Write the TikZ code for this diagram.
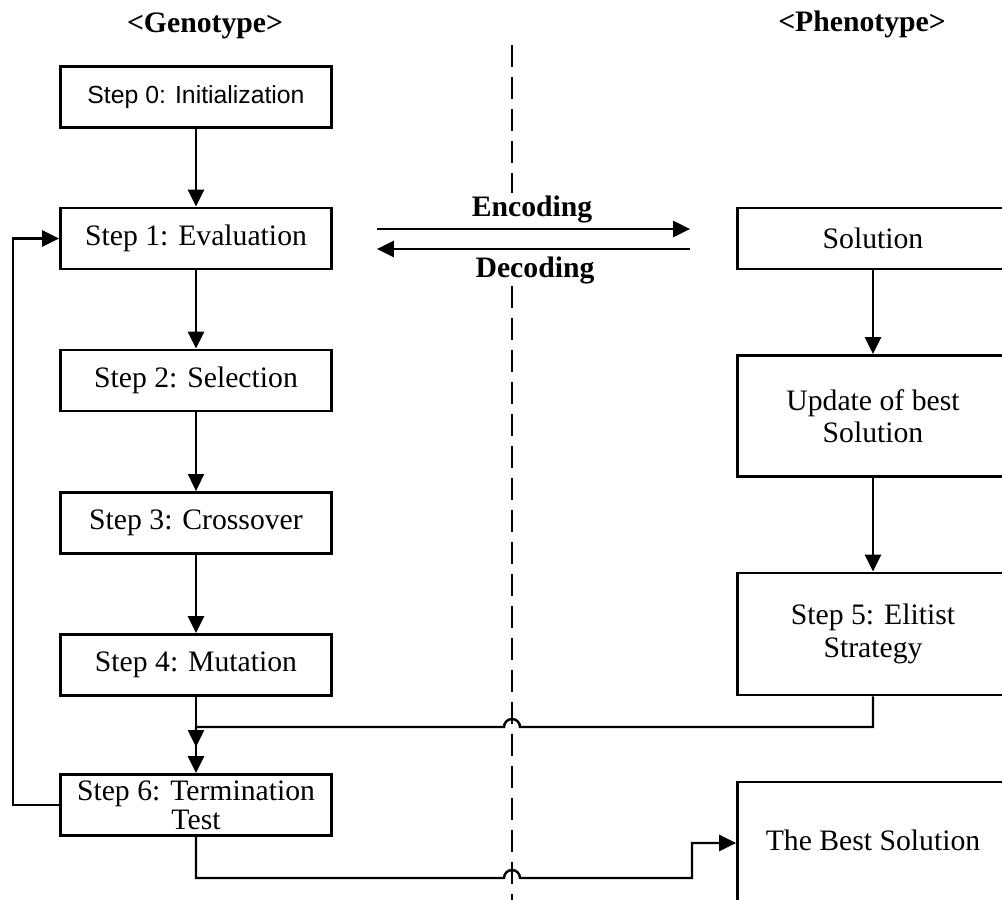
\documentclass[tikz,border=0pt]{standalone}
\usepackage{fontspec}
\setmainfont{Liberation Serif}
\newfontfamily\arialfont{Liberation Sans}
\usetikzlibrary{arrows.meta}

\begin{document}
\begin{tikzpicture}[x=0.02cm, y=-0.02cm,
	stepbox/.style={draw, line width=1.6pt, rectangle, minimum width=5.42cm, minimum height=1.22cm, align=center, inner sep=0pt, font=\fontsize{16.9}{18.5}\selectfont},
	wire/.style={line width=1.4pt},
	flow/.style={line width=1.4pt, -{Triangle[length=0.34cm, width=0.32cm]}},
	divider/.style={line width=1.6pt, dash pattern=on 0.44cm off 0.2cm},
	heading/.style={font=\bfseries\fontsize{16.9}{18}\selectfont, anchor=base, inner sep=1pt}]
	
	\clip (0,0) rectangle (1002,900);
	
	\node [heading] (geno) at (205,32){<Genotype>};
	\node [heading] (pheno) at (862,31){<Phenotype>};
	
	\node [stepbox, font=\arialfont\fontsize{14.1}{16}\selectfont] (s0) at (196,97){Step 0: Initialization};
	\node [stepbox] (s1) at (196,238.5){Step 1: Evaluation};
	\node [stepbox] (s2) at (196,380.5){Step 2: Selection};
	\node [stepbox] (s3) at (196,523){Step 3: Crossover};
	\node [stepbox] (s4) at (196,665){Step 4: Mutation};
	\node [stepbox, font=\fontsize{16.9}{16.4}\selectfont] (s6) at (196,805){Step 6: Termination\\Test};
	
	\node [stepbox] (sol) at (873,238.5){Solution};
	\node [stepbox, minimum height=2.42cm] (upd) at (873,416){Update of best\\Solution};
	\node [stepbox, minimum height=2.44cm] (s5) at (873,634){Step 5: Elitist\\Strategy};
	\node [stepbox, minimum height=2.6cm, text depth=8pt] (best) at (873,847){The Best Solution};
	
	\node [heading] (enc) at (532,216){Encoding};
	\node [heading] (dec) at (535,277){Decoding};
	
	\coordinate (dtop) at (512,45);
	\coordinate (dbot) at (512,905);
	\coordinate (hopA) at (520,727);
	\coordinate (merge) at (196,727);
	\coordinate (mergetip) at (196,747);
	\coordinate (hopB) at (504,878);
	\coordinate (bend) at (692,843);
	
	\draw[divider] (dtop) -- (dtop |- enc.north);
	\draw[divider] (dtop |- dec.south) -- (dbot);
	
	\draw[flow] ([shift={(44,-9.5)}]s1.east) -- ([shift={(-46,-9.5)}]sol.west);
	\draw[flow] ([shift={(-46,10.5)}]sol.west) -- ([shift={(44,10.5)}]s1.east);
	
	\draw[flow] (s0) -- (s1);
	\draw[flow] (s1) -- (s2);
	\draw[flow, line width=0.9pt] (s2) -- (s3);
	\draw[flow] (s3) -- (s4);
	\draw[flow] (s4) -- (s6);
	\draw[flow] (sol) -- (upd);
	\draw[flow] (upd) -- (s5);
	
	\draw[flow] (s5.south) |- (hopA) arc[start angle=0, end angle=180, radius=0.16cm] -- (merge) -- (mergetip);
	\draw[flow] (s6.south) |- (hopB) arc[start angle=180, end angle=0, radius=0.16cm] -| (bend) -- (bend -| best.west);
	\draw[flow] (s6.west) -- ++(-46,0) |- (s1.west);
	
\end{tikzpicture}
\end{document}
